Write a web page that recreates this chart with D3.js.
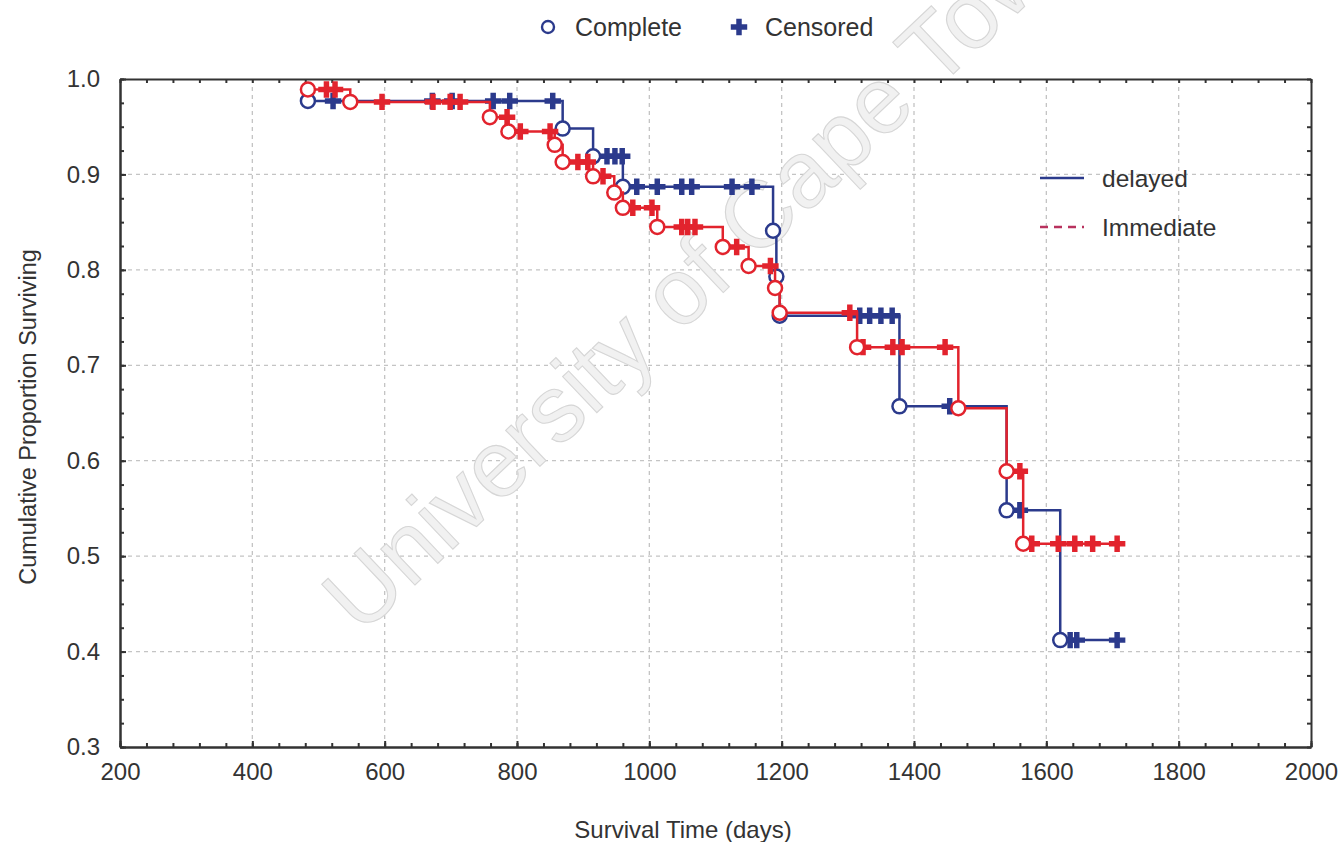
<!DOCTYPE html>
<html>
<head>
<meta charset="utf-8">
<script src="https://cdn.jsdelivr.net/npm/d3@7"></script>
<style>
  body { margin: 0; background: #fff; }
  svg { font-family: "Liberation Sans", Arial, sans-serif; }
</style>
</head>
<body>
<svg id="chart"></svg>
<script>
// data
var xTicks = [200, 400, 600, 800, 1000, 1200, 1400, 1600, 1800, 2000];
var yTicks = [0.3, 0.4, 0.5, 0.6, 0.7, 0.8, 0.9, 1.0];

var delayedEventDays = [484, 869, 915, 960, 1187, 1192, 1197, 1378, 1540, 1621];
var delayedEventSurv = [0.977, 0.948, 0.919, 0.887, 0.841, 0.793, 0.752, 0.657, 0.548, 0.412];
var delayedCensorDays = [522, 672, 702, 764, 789, 854, 936, 948, 959, 981, 1012, 1049, 1064,
                         1125, 1155, 1318, 1333, 1350, 1367, 1454, 1560, 1636, 1646, 1707];

var immediateEventDays = [484, 548, 759, 787, 857, 869, 915, 947, 960, 1012, 1111, 1150,
                          1190, 1197, 1314, 1467, 1540, 1565];
var immediateEventSurv = [0.989, 0.976, 0.960, 0.945, 0.931, 0.913, 0.898, 0.881, 0.865, 0.845,
                          0.824, 0.804, 0.781, 0.755, 0.719, 0.655, 0.589, 0.513];
var immediateCensorDays = [512, 525, 596, 673, 699, 714, 785, 805, 850, 892, 907, 930, 975, 1004,
                           1049, 1058, 1069, 1132, 1183, 1303, 1323, 1368, 1382, 1447, 1560,
                           1578, 1618, 1643, 1670, 1707];

var groupNames = ['delayed', 'Immediate'];

//// setup
var width = 1338, height = 842;
var plotLeft = 120, plotRight = 1311, plotTop = 79, plotBottom = 747;
var blue = '#2b3a8c', red = '#e2232d', axisColor = '#333';

var svg = d3.select('#chart')
    .attr('width', width)
    .attr('height', height);

var xScale = d3.scaleLinear().domain([200, 2000]).range([plotLeft, plotRight]);
var yScale = d3.scaleLinear().domain([0.3, 1.0]).range([plotBottom, plotTop]);

//// grid
var grid = svg.append('g').attr('stroke', '#c4c4c4').attr('stroke-width', 1.3)
    .attr('stroke-dasharray', '4,4');
grid.selectAll('.vg').data(xTicks.slice(1, -1)).enter().append('line')
    .attr('x1', d => xScale(d)).attr('x2', d => xScale(d))
    .attr('y1', plotTop).attr('y2', plotBottom);
grid.selectAll('.hg').data(yTicks.slice(1, -1)).enter().append('line')
    .attr('x1', plotLeft).attr('x2', plotRight)
    .attr('y1', d => yScale(d)).attr('y2', d => yScale(d));

//// watermark
svg.append('text')
    .attr('transform', 'translate(728,288) rotate(-43.5)')
    .attr('text-anchor', 'middle')
    .attr('font-size', 94)
    .attr('fill', '#f1f1f1')
    .attr('stroke', '#d6d6d6')
    .attr('stroke-width', 1.1)
    .text('University of Cape Town');

//// axes
var xMinor = d3.range(200, 2001, 40);
var yMinor = d3.range(0, 29).map(i => 0.3 + i * 0.025);

function styleAxis(g) {
  g.select('.domain').attr('stroke', axisColor).attr('stroke-width', 2);
  g.selectAll('.tick line').attr('stroke', axisColor).attr('stroke-width', 2);
  g.selectAll('.tick text').attr('fill', '#333').attr('font-size', 24);
}

svg.append('g').attr('transform', `translate(0,${plotBottom})`)
    .call(d3.axisBottom(xScale).tickValues(xMinor).tickSize(-4).tickSizeOuter(0).tickFormat(''))
    .call(styleAxis);
svg.append('g').attr('transform', `translate(0,${plotBottom})`)
    .call(d3.axisBottom(xScale).tickValues(xTicks).tickSize(-6).tickSizeOuter(0).tickPadding(16)
      .tickFormat(d3.format('d')))
    .call(styleAxis);
svg.append('g').attr('transform', `translate(0,${plotTop})`)
    .call(d3.axisTop(xScale).tickValues(xMinor).tickSize(-4).tickSizeOuter(0).tickFormat(''))
    .call(styleAxis);
svg.append('g').attr('transform', `translate(${plotLeft},0)`)
    .call(d3.axisLeft(yScale).tickValues(yMinor).tickSize(-4).tickSizeOuter(0).tickFormat(''))
    .call(styleAxis);
svg.append('g').attr('transform', `translate(${plotLeft},0)`)
    .call(d3.axisLeft(yScale).tickValues(yTicks).tickSize(-6).tickSizeOuter(0).tickPadding(20)
      .tickFormat(d3.format('.1f')))
    .call(styleAxis);
svg.append('g').attr('transform', `translate(${plotRight},0)`)
    .call(d3.axisRight(yScale).tickValues(yMinor).tickSize(-4).tickSizeOuter(0).tickFormat(''))
    .call(styleAxis);

svg.append('text')
    .attr('x', 683).attr('y', 838)
    .attr('text-anchor', 'middle').attr('font-size', 24).attr('fill', '#333')
    .text('Survival Time (days)');
svg.append('text')
    .attr('transform', 'translate(36,417) rotate(-90)')
    .attr('text-anchor', 'middle').attr('font-size', 23.5).attr('fill', '#333')
    .text('Cumulative Proportion Surviving');

//// survival curves
function survAt(days, surv, t) {
  var s = 1;
  days.forEach((d, i) => { if (d <= t) s = surv[i]; });
  return s;
}

function stepPoints(days, surv, censored) {
  var pts = [[days[0], surv[0]]];
  for (var i = 1; i < days.length; i++) {
    pts.push([days[i], surv[i - 1]]);
    pts.push([days[i], surv[i]]);
  }
  var last = d3.max(censored);
  if (last > days[days.length - 1]) pts.push([last, surv[surv.length - 1]]);
  return pts;
}

var line = d3.line().x(d => xScale(d[0])).y(d => yScale(d[1]));
var cross = d3.symbol().type(d3.symbolCross).size(150);

function drawCurve(days, surv, censored, color) {
  var g = svg.append('g');
  g.append('path')
      .attr('d', line(stepPoints(days, surv, censored)))
      .attr('fill', 'none').attr('stroke', color).attr('stroke-width', 2.5);
  g.selectAll('.cens').data(censored).enter().append('path')
      .attr('d', cross)
      .attr('transform', d => `translate(${xScale(d)},${yScale(survAt(days, surv, d))})`)
      .attr('fill', color);
  g.selectAll('.evt').data(days).enter().append('circle')
      .attr('cx', d => xScale(d))
      .attr('cy', (d, i) => yScale(surv[i]))
      .attr('r', 7)
      .attr('fill', '#fff').attr('stroke', color).attr('stroke-width', 2.5);
}

drawCurve(delayedEventDays, delayedEventSurv, delayedCensorDays, blue);
drawCurve(immediateEventDays, immediateEventSurv, immediateCensorDays, red);

//// legends
var topLegend = svg.append('g');
topLegend.append('circle').attr('cx', 548).attr('cy', 27).attr('r', 6)
    .attr('fill', '#fff').attr('stroke', blue).attr('stroke-width', 2.4);
topLegend.append('text').attr('x', 575).attr('y', 36).attr('font-size', 25).attr('fill', '#333')
    .text('Complete');
topLegend.append('path').attr('d', cross).attr('transform', 'translate(739,27)').attr('fill', blue);
topLegend.append('text').attr('x', 765).attr('y', 36).attr('font-size', 25).attr('fill', '#333')
    .text('Censored');

var sideLegend = svg.append('g');
sideLegend.append('line').attr('x1', 1040).attr('x2', 1084).attr('y1', 178).attr('y2', 178)
    .attr('stroke', blue).attr('stroke-width', 2.4);
sideLegend.append('line').attr('x1', 1040).attr('x2', 1084).attr('y1', 227).attr('y2', 227)
    .attr('stroke', '#b8325e').attr('stroke-width', 2.4).attr('stroke-dasharray', '8,6');
sideLegend.selectAll('.lt').data(groupNames).enter().append('text')
    .attr('x', 1102).attr('y', (d, i) => 187 + i * 49)
    .attr('font-size', 24.5).attr('fill', '#333')
    .text(d => d);
</script>
</body>
</html>
